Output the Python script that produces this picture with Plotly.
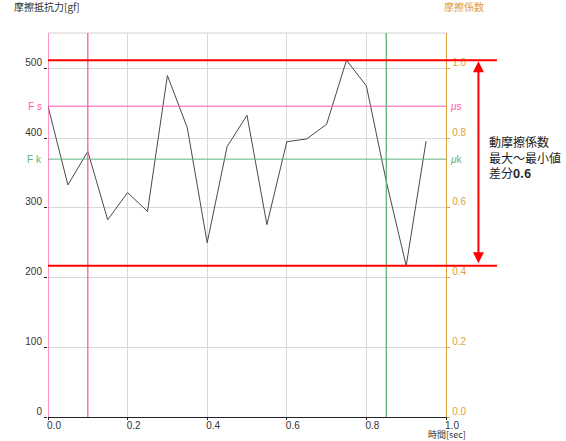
import plotly.graph_objects as go

# Friction force samples (gf) over time (sec)
time_sec = [0.00, 0.05, 0.10, 0.15, 0.20, 0.25, 0.30, 0.35, 0.40, 0.45,
            0.50, 0.55, 0.60, 0.65, 0.70, 0.75, 0.80, 0.85, 0.90, 0.95]
force_gf = [446, 333, 381, 283, 322, 295, 490, 415, 250, 388,
            433, 276, 395, 399, 420, 512, 475, 338, 217, 396]

# Reference levels
fs_level = 446   # static friction force
fk_level = 370   # kinetic friction force
load_gf = 500    # friction coefficient = force / load

# Cursor positions (sec)
pink_cursors = [0.0, 0.1]
green_cursor = 0.85

x_ticks = [0.0, 0.2, 0.4, 0.6, 0.8, 1.0]
y_ticks = [0, 100, 200, 300, 400, 500]
mu_ticks = [0.0, 0.2, 0.4, 0.6, 0.8, 1.0]

Y_MAX = 551
PINK = "#FF5AAA"
GREEN = "#5DB37E"
GOLD = "#E0A040"
RED = "#FF0000"
FONT = "Noto Sans CJK JP"
NUM_FONT = "Liberation Sans"

W, H = 566, 441
M_L, M_R, M_T, M_B = 48, 120, 33, 24
plot_h = H - M_T - M_B

f_max = max(force_gf)
f_min = min(force_gf)
mu_diff = (f_max - f_min) / load_gf
arrow_px = (f_max - f_min) * plot_h / Y_MAX

fig = go.Figure()
fig.add_trace(go.Scatter(x=time_sec, y=force_gf, mode="lines",
                         line=dict(color="#4a4a4a", width=1), showlegend=False))
# invisible trace to activate the right axis
fig.add_trace(go.Scatter(x=[0], y=[0], yaxis="y2", mode="markers",
                         marker=dict(opacity=0), showlegend=False, hoverinfo="skip"))

shapes = []
# top frame
shapes.append(dict(type="line", xref="paper", yref="paper", x0=0, x1=1, y0=1, y1=1,
                   line=dict(color="#d0d0d0", width=1)))
# Fs / Fk levels
shapes.append(dict(type="line", xref="paper", yref="y", x0=0, x1=1, y0=fs_level, y1=fs_level,
                   line=dict(color=PINK, width=1)))
shapes.append(dict(type="line", xref="paper", yref="y", x0=0, x1=1, y0=fk_level, y1=fk_level,
                   line=dict(color=GREEN, width=1)))
# cursors
for t in pink_cursors:
    shapes.append(dict(type="line", xref="x", yref="paper", x0=t, x1=t, y0=0, y1=1,
                       line=dict(color=PINK, width=1.3)))
shapes.append(dict(type="line", xref="x", yref="paper", x0=green_cursor, x1=green_cursor,
                   y0=0, y1=1, line=dict(color=GREEN, width=1.3)))
# max / min lines
for lvl in (f_max, f_min):
    shapes.append(dict(type="line", xref="paper", yref="y", x0=0, x1=1.128, y0=lvl, y1=lvl,
                       line=dict(color=RED, width=2)))

annotations = [
    dict(text="摩擦抵抗力[gf]", xref="paper", yref="paper", x=-0.09, y=1.07,
         xanchor="left", yanchor="middle", showarrow=False,
         font=dict(family=FONT, size=10, color="#333333")),
    dict(text="摩擦係数", xref="paper", yref="paper", x=1.045, y=1.07,
         xanchor="center", yanchor="middle", showarrow=False,
         font=dict(family=FONT, size=10, color=GOLD)),
    dict(text="時間[sec]", xref="paper", yref="paper", x=1.052, y=-M_B / plot_h,
         xanchor="right", yanchor="bottom", yshift=-1, showarrow=False, borderpad=0,
         font=dict(family=FONT, size=9, color="#333333")),
    dict(text="F s", xref="paper", yref="y", x=-0.01, y=fs_level, xanchor="right",
         yanchor="middle", showarrow=False, font=dict(family=NUM_FONT, size=10, color=PINK)),
    dict(text="F k", xref="paper", yref="y", x=-0.01, y=fk_level, xanchor="right",
         yanchor="middle", showarrow=False, font=dict(family=NUM_FONT, size=10, color=GREEN)),
    dict(text="<i>μ</i>s", xref="paper", yref="y", x=1.005, y=fs_level, xanchor="left",
         yanchor="middle", showarrow=False, font=dict(family=NUM_FONT, size=10, color=PINK)),
    dict(text="<i>μ</i>k", xref="paper", yref="y", x=1.005, y=fk_level, xanchor="left",
         yanchor="middle", showarrow=False, font=dict(family=NUM_FONT, size=10, color=GREEN)),
    # double-headed arrow spanning max to min
    dict(x=1.0815, y=f_max, xref="paper", yref="y", ax=0, ay=arrow_px,
         axref="pixel", ayref="pixel",
         text="", showarrow=True, arrowhead=2, arrowside="end+start", arrowsize=1.1,
         arrowwidth=2, arrowcolor=RED, standoff=1, startstandoff=1),
    dict(text=f"動摩擦係数<br>最大～最小値<br>差分<b>{mu_diff:.1f}</b>",
         xref="paper", yref="y", x=1.102, y=(f_max + f_min) / 2 + 8,
         xanchor="left", yanchor="middle", align="left", showarrow=False,
         font=dict(family=FONT, size=12, color="#222222")),
]

fig.update_layout(
    width=W, height=H,
    margin=dict(l=M_L, r=M_R, t=M_T, b=M_B, autoexpand=False),
    paper_bgcolor="white", plot_bgcolor="white",
    font=dict(family=FONT, size=10, color="#333333"),
    showlegend=False,
    shapes=shapes,
    annotations=annotations,
    xaxis=dict(range=[0, 1], tickvals=x_ticks, ticktext=[f"{v:.1f}" for v in x_ticks],
               showgrid=True, gridcolor="#d8d8d8", gridwidth=1, zeroline=False,
               showline=True, linecolor="#222222", linewidth=1.3, automargin=False,
               ticks="outside", ticklen=2, tickcolor="#222222",
               ticklabelshift=6, ticklabelstandoff=-3,
               tickfont=dict(family=NUM_FONT, size=10, color="#333333")),
    yaxis=dict(range=[0, Y_MAX], tickvals=y_ticks, showgrid=True, gridcolor="#d8d8d8",
               gridwidth=1, zeroline=False, showline=False, automargin=False,
               ticks="outside", ticklen=3, tickcolor="#222222",
               ticklabelshift=-6, tickfont=dict(family=NUM_FONT, size=10, color="#333333")),
    yaxis2=dict(range=[0, Y_MAX / load_gf], overlaying="y", side="right",
                tickvals=mu_ticks, ticktext=[f"{v:.1f}" for v in mu_ticks],
                showgrid=False, zeroline=False, showline=True, linecolor=GOLD, linewidth=1.3,
                automargin=False, ticks="outside", ticklen=3, tickcolor=GOLD,
                ticklabelshift=-6, tickfont=dict(family=NUM_FONT, size=10, color=GOLD)),
)

fig.write_html("out.html")
